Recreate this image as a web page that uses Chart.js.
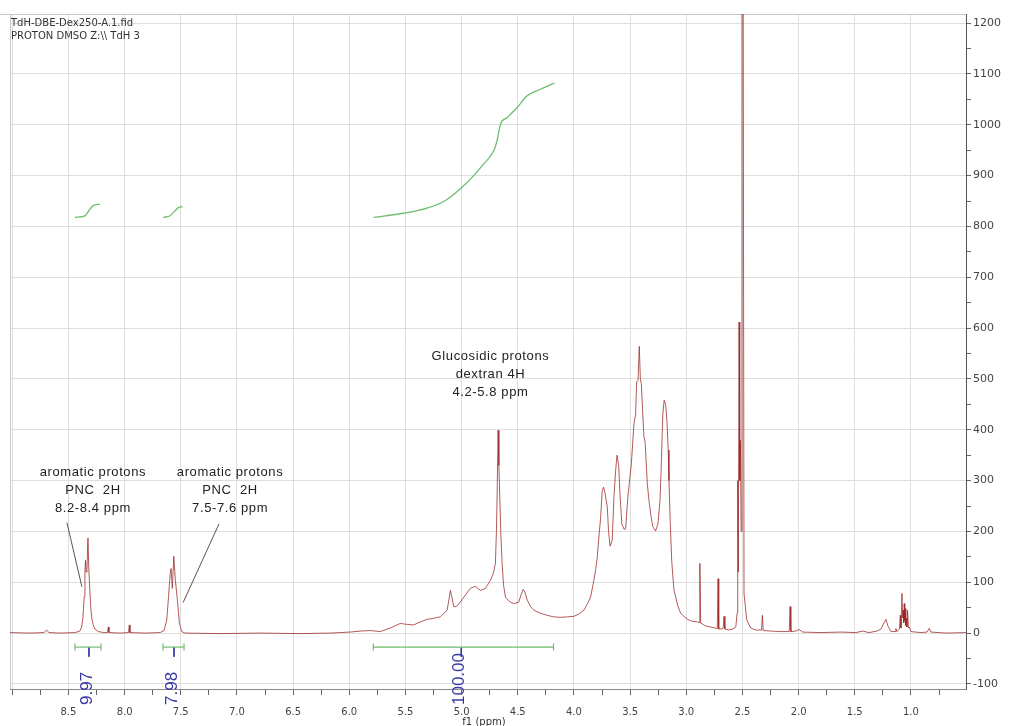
<!DOCTYPE html>
<html>
<head>
<meta charset="utf-8">
<title>TdH-DBE-Dex250 1H NMR</title>
<script src="https://cdn.jsdelivr.net/npm/chart.js@4.4.0/dist/chart.umd.min.js"></script>
<style>
  html, body { margin: 0; padding: 0; background: #fff; }
</style>
</head>
<body>
<canvas id="chart" width="1021" height="726"></canvas>
<script>
// Espectro 1H (ppm / intensidade)
const ppm = [
  9.021, 8.843, 8.718, 8.694, 8.674, 8.576, 8.442, 8.398, 8.382, 8.371, 8.359, 8.353, 8.348, 8.342,
  8.335, 8.326, 8.319, 8.313, 8.302, 8.291, 8.279, 8.264, 8.234, 8.184, 8.152, 8.145, 8.139, 8.041,
  7.965, 7.958, 7.952, 7.818, 7.684, 7.649, 7.625, 7.609, 7.595, 7.586, 7.575, 7.562, 7.548, 7.530,
  7.512, 7.491, 7.462, 7.150, 6.793, 6.437, 6.169, 5.991, 5.902, 5.813, 5.724, 5.634, 5.545, 5.483,
  5.427, 5.367, 5.307, 5.251, 5.189, 5.129, 5.113, 5.100, 5.086, 5.070, 5.046, 5.011, 4.966, 4.922,
  4.877, 4.833, 4.788, 4.743, 4.717, 4.699, 4.690, 4.684, 4.675, 4.668, 4.660, 4.650, 4.639, 4.627,
  4.610, 4.574, 4.536, 4.491, 4.471, 4.452, 4.436, 4.416, 4.386, 4.357, 4.298, 4.238, 4.182, 4.119,
  4.057, 4.001, 3.959, 3.912, 3.879, 3.852, 3.830, 3.807, 3.792, 3.778, 3.763, 3.748, 3.736, 3.723,
  3.703, 3.692, 3.678, 3.659, 3.644, 3.629, 3.616, 3.602, 3.589, 3.574, 3.553, 3.540, 3.520, 3.489,
  3.466, 3.451, 3.442, 3.430, 3.418, 3.409, 3.400, 3.389, 3.377, 3.366, 3.347, 3.332, 3.317, 3.299,
  3.273, 3.252, 3.234, 3.224, 3.209, 3.197, 3.184, 3.172, 3.161, 3.154, 3.143, 3.130, 3.110, 3.094,
  3.077, 3.050, 2.990, 2.943, 2.901, 2.885, 2.879, 2.872, 2.827, 2.782, 2.747, 2.724, 2.717, 2.711,
  2.685, 2.671, 2.664, 2.656, 2.622, 2.586, 2.559, 2.547, 2.542, 2.537, 2.530, 2.524, 2.518, 2.512,
  2.504, 2.495, 2.486, 2.462, 2.426, 2.381, 2.330, 2.322, 2.315, 2.248, 2.159, 2.083, 2.076, 2.069,
  2.025, 1.996, 1.963, 1.802, 1.624, 1.490, 1.430, 1.374, 1.303, 1.267, 1.240, 1.223, 1.205, 1.178,
  1.142, 1.134, 1.125, 1.102, 1.095, 1.089, 1.080, 1.074, 1.069, 1.064, 1.060, 1.055, 1.051, 1.046,
  1.042, 1.036, 1.030, 1.022, 1.015, 1.000, 0.911, 0.857, 0.837, 0.822, 0.688, 0.510
];
const intensity = [
  1, 0, 1, 6, 1, 0, 1, 4, 12, 30, 72, 120, 143, 120,
  125, 187, 130, 100, 52, 28, 16, 8, 3, 1, 1, 12, 1, 0,
  1, 16, 1, 0, 1, 5, 25, 70, 115, 127, 88, 151, 104, 65,
  19, 3, 0, -1, 0, -1, 0, 2, 4, 5, 3, 10, 19, 17,
  16, 22, 27, 29, 32, 45, 65, 84, 70, 52, 52, 61, 75, 88,
  92, 84, 88, 104, 118, 137, 200, 268, 399, 330, 268, 190, 137, 95,
  71, 62, 58, 61, 75, 86, 80, 65, 52, 45, 39, 35, 32, 31,
  32, 33, 37, 45, 58, 71, 95, 124, 150, 189, 225, 281, 287, 275,
  248, 200, 171, 183, 268, 320, 350, 330, 270, 215, 204, 205, 268, 333,
  412, 430, 494, 497, 564, 500, 491, 440, 386, 375, 294, 261, 235, 210,
  201, 215, 261, 320, 430, 458, 450, 418, 360, 300, 220, 143, 85, 71,
  55, 39, 27, 23, 22, 21, 137, 20, 14, 12, 10, 9, 107, 8,
  8, 10, 33, 8, 6, 8, 12, 40, 300, 120, 612, 300, 379, 200,
  1500, 1500, 78, 26, 10, 6, 6, 35, 5, 4, 3, 3, 52, 3,
  4, 7, 2, 1, 2, 1, 4, 1, 4, 8, 20, 27, 14, 3,
  3, 9, 3, 8, 35, 10, 78, 30, 45, 20, 58, 25, 48, 15,
  29, 12, 45, 10, 12, 3, 1, 2, 9, 2, 0, 1
];

// Curvas de integral
const integ1Ppm = [8.442, 8.353, 8.308, 8.279, 8.219];
const integ1Val = [818, 821, 834, 841, 844];
const integ2Ppm = [7.655, 7.595, 7.550, 7.521, 7.482];
const integ2Val = [818, 821, 831, 837, 839];
const integ3Ppm = [5.783, 5.516, 5.307, 5.144, 5.011, 4.892, 4.803, 4.714, 4.684, 4.654, 4.595, 4.505, 4.416, 4.298, 4.173];
const integ3Val = [818, 826, 836, 851, 874, 900, 923, 949, 969, 1001, 1014, 1034, 1057, 1070, 1082];

// Regioes integradas
const intFrom = [8.442, 7.658, 5.786];
const intTo = [8.210, 7.471, 4.182];
const intMid = [8.317, 7.560, 5.003];
const intLabels = ["9.97", "7.98", "100.00"];

const yTicksMajor = 100;
const xTicksMajor = 0.5;

const RED = "rgba(155,35,35,0.75)";
const GREEN = "rgb(110,190,110)";
const BLUE = "rgb(55,55,165)";
const BAR_LEVEL = -27.5;

function toXY(xs, ys) {
  var out = [];
  for (var i = 0; i < xs.length; i++) out.push({ x: xs[i], y: ys[i] });
  return out;
}

function isMultiple(v, step) {
  var r = v / step;
  return Math.abs(r - Math.round(r)) < 1e-6;
}

var datasets = [
  { data: toXY(ppm, intensity), borderColor: RED, borderWidth: 1, pointRadius: 0, showLine: true, tension: 0 },
  { data: toXY(integ1Ppm, integ1Val), borderColor: GREEN, borderWidth: 1.3, pointRadius: 0, showLine: true, cubicInterpolationMode: "monotone" },
  { data: toXY(integ2Ppm, integ2Val), borderColor: GREEN, borderWidth: 1.3, pointRadius: 0, showLine: true, cubicInterpolationMode: "monotone" },
  { data: toXY(integ3Ppm, integ3Val), borderColor: GREEN, borderWidth: 1.3, pointRadius: 0, showLine: true, cubicInterpolationMode: "monotone" }
];

// barras de integracao e marcas azuis
for (var i = 0; i < intFrom.length; i++) {
  datasets.push({
    data: [{ x: intFrom[i], y: BAR_LEVEL }, { x: intTo[i], y: BAR_LEVEL }],
    borderColor: GREEN, borderWidth: 1.2, showLine: true,
    pointStyle: "line", rotation: 90, pointRadius: 3.5,
    pointBorderColor: GREEN, pointBorderWidth: 1.2
  });
  datasets.push({
    data: [{ x: intMid[i], y: BAR_LEVEL }, { x: intMid[i], y: BAR_LEVEL - 19 }],
    borderColor: BLUE, borderWidth: 1, showLine: true, pointRadius: 0
  });
}

// Anotacoes
const notes = [
  { x: 8.282, y: 317, lines: ["aromatic protons", "PNC  2H", "8.2-8.4 ppm"], lead: [8.513, 217, 8.380, 91] },
  { x: 7.061, y: 317, lines: ["aromatic protons", "PNC  2H", "7.5-7.6 ppm"], lead: [7.159, 215, 7.479, 60] },
  { x: 4.743, y: 544, lines: ["Glucosidic protons", "dextran 4H", "4.2-5.8 ppm"], lead: null }
];

const decor = {
  id: "decor",
  beforeDatasetsDraw(chart) {
    var ctx = chart.ctx, a = chart.chartArea;
    ctx.save();
    ctx.strokeStyle = "#c8c8c8";
    ctx.lineWidth = 1;
    ctx.beginPath();
    ctx.moveTo(0, a.top + 0.5);
    ctx.lineTo(a.right, a.top + 0.5);
    ctx.moveTo(a.left + 0.5, a.top);
    ctx.lineTo(a.left + 0.5, a.bottom);
    ctx.stroke();
    ctx.restore();
  },
  afterDraw(chart) {
    var ctx = chart.ctx, a = chart.chartArea;
    var sx = chart.scales.x, sy = chart.scales.y;
    ctx.save();

    // cabecalho
    ctx.fillStyle = "#333";
    ctx.font = "10px 'DejaVu Sans'";
    ctx.textAlign = "left";
    ctx.textBaseline = "middle";
    ctx.fillText("TdH-DBE-Dex250-A.1.fid", a.left + 1, 23);
    ctx.fillText("PROTON DMSO Z:\\\\ TdH 3", a.left + 1, 36);

    // textos das anotacoes
    ctx.font = "13px 'Liberation Sans'";
    ctx.letterSpacing = "0.6px";
    ctx.fillStyle = "#222";
    ctx.textAlign = "center";
    notes.forEach(function (n) {
      var px = sx.getPixelForValue(n.x), py = sy.getPixelForValue(n.y);
      n.lines.forEach(function (t, k) { ctx.fillText(t, px, py + k * 18); });
      if (n.lead) {
        ctx.strokeStyle = "#555";
        ctx.lineWidth = 1;
        ctx.beginPath();
        ctx.moveTo(sx.getPixelForValue(n.lead[0]), sy.getPixelForValue(n.lead[1]));
        ctx.lineTo(sx.getPixelForValue(n.lead[2]), sy.getPixelForValue(n.lead[3]));
        ctx.stroke();
      }
    });
    ctx.letterSpacing = "0px";

    // valores integrados (rodados)
    ctx.fillStyle = BLUE;
    ctx.font = "17px 'Liberation Sans'";
    ctx.textAlign = "left";
    ctx.textBaseline = "middle";
    for (var i = 0; i < intLabels.length; i++) {
      ctx.save();
      ctx.translate(sx.getPixelForValue(intMid[i]) - 2, a.bottom + 16);
      ctx.rotate(-Math.PI / 2);
      ctx.fillText(intLabels[i], 0, 0);
      ctx.restore();
    }

    // titulo do eixo x
    ctx.fillStyle = "#333";
    ctx.font = "10px 'DejaVu Sans'";
    ctx.textAlign = "center";
    ctx.fillText("f1 (ppm)", (a.left + a.right) / 2 - 4, 722);
    ctx.restore();
  }
};

new Chart(document.getElementById("chart"), {
  type: "scatter",
  data: { datasets: datasets },
  plugins: [decor],
  options: {
    responsive: false,
    animation: false,
    layout: { padding: { left: 10, top: 14, right: 0, bottom: 0 } },
    plugins: { legend: { display: false }, tooltip: { enabled: false } },
    scales: {
      x: {
        type: "linear",
        reverse: true,
        min: 0.51,
        max: 9.02,
        afterFit: function (s) { s.height = 37; },
        border: { display: true, color: "#888" },
        grid: {
          color: function (c) { return c.tick && isMultiple(c.tick.value, xTicksMajor) ? "#dedede" : "rgba(0,0,0,0)"; },
          tickColor: "#666",
          tickLength: 6
        },
        ticks: {
          stepSize: 0.25,
          includeBounds: false,
          autoSkip: false,
          maxRotation: 0,
          padding: 11,
          color: "#444",
          font: { family: "DejaVu Sans", size: 10 },
          callback: function (v) { return isMultiple(v, xTicksMajor) && v < 8.8 ? v.toFixed(1) : ""; }
        }
      },
      y: {
        type: "linear",
        position: "right",
        min: -110,
        max: 1218,
        afterFit: function (s) { s.width = 55; },
        border: { display: true, color: "#555" },
        grid: {
          color: function (c) { return c.tick && isMultiple(c.tick.value, yTicksMajor) ? "#dedede" : "rgba(0,0,0,0)"; },
          tickColor: "#666",
          tickLength: 5
        },
        ticks: {
          stepSize: 50,
          includeBounds: false,
          autoSkip: false,
          padding: 2,
          color: "#444",
          font: { family: "DejaVu Sans", size: 11 },
          callback: function (v) { return isMultiple(v, yTicksMajor) ? String(v) : ""; }
        }
      }
    }
  }
});
</script>
</body>
</html>
